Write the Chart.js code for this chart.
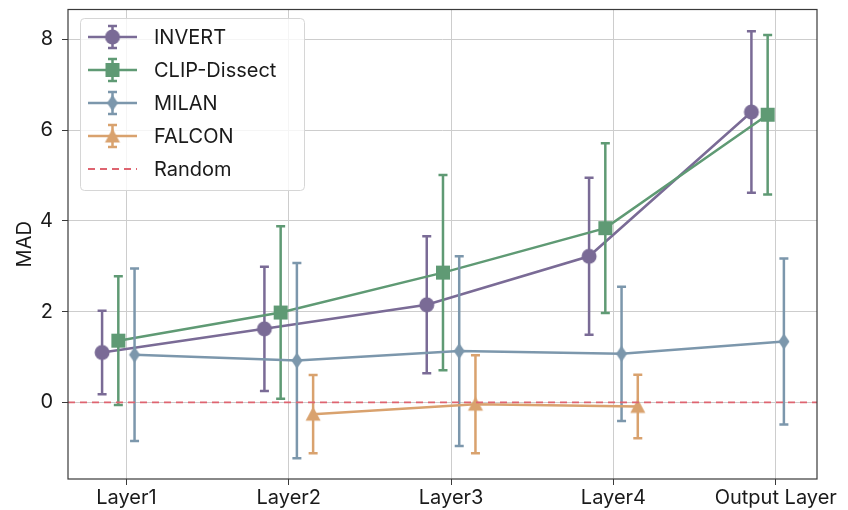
<!DOCTYPE html>
<html>
<head>
<meta charset="utf-8">
<script src="https://cdn.jsdelivr.net/npm/chart.js@4.4.1/dist/chart.umd.min.js"></script>
<style>
  html, body { margin: 0; padding: 0; background: #fff; }
  #wrap { width: 848px; height: 510px; }
</style>
</head>
<body>
<div id="wrap"><canvas id="madChart" width="848" height="510"></canvas></div>
<script>
// Categories and tick labels
const layers = ['Layer1', 'Layer2', 'Layer3', 'Layer4', 'Output Layer'];
const yTicks = [0, 2, 4, 6, 8];

// Series values (mean MAD and symmetric error)
const invertMean = [1.10, 1.62, 2.15, 3.22, 6.40];
const invertErr  = [0.92, 1.37, 1.51, 1.73, 1.78];
const clipMean   = [1.36, 1.98, 2.86, 3.84, 6.34];
const clipErr    = [1.42, 1.90, 2.15, 1.87, 1.76];
const milanMean  = [1.05, 0.92, 1.13, 1.07, 1.34];
const milanErr   = [1.90, 2.15, 2.09, 1.48, 1.83];
const falconMean = [null, -0.26, -0.04, -0.09, null];
const falconErr  = [null, 0.86, 1.08, 0.70, null];
const randomLevel = 0;

// Axis limits
const xMin = -0.36, xMax = 4.254;
const yMin = -1.69, yMax = 8.66;

const FONT = "Inter, 'DejaVu Sans', sans-serif";

// Build a marker image for pointStyle
function makeMarker(shape, color) {
    const c = document.createElement('canvas');
    c.width = 20;
    c.height = 20;
    const g = c.getContext('2d');
    g.fillStyle = color;
    g.beginPath();
    if (shape === 'circle') {
        g.arc(10, 10, 7.5, 0, Math.PI * 2);
    } else if (shape === 'square') {
        g.rect(3, 3, 14, 14);
    } else if (shape === 'thin_diamond') {
        g.moveTo(10, 2);
        g.lineTo(15.5, 10);
        g.lineTo(10, 18);
        g.lineTo(4.5, 10);
        g.closePath();
    } else if (shape === 'triangle') {
        g.moveTo(10, 2.5);
        g.lineTo(17.5, 16.5);
        g.lineTo(2.5, 16.5);
        g.closePath();
    }
    g.fill();
    return c;
}

// Turn category arrays into {x, y} points with a dodge offset
function toPoints(means, offset) {
    const pts = [];
    means.forEach((v, i) => {
        if (v !== null) pts.push({ x: i + offset, y: v });
    });
    return pts;
}

function makeSeries(label, means, errs, offset, color, shape, order) {
    const marker = makeMarker(shape, color);
    return {
        label: label,
        data: toPoints(means, offset),
        errors: errs.filter(e => e !== null),
        borderColor: color,
        backgroundColor: color,
        borderWidth: 2.5,
        pointStyle: marker,
        pointRadius: 7,
        pointHoverRadius: 7,
        tension: 0,
        order: order
    };
}

const series = [
    makeSeries('INVERT', invertMean, invertErr, -0.15, '#7a6b96', 'circle', 5),
    makeSeries('CLIP-Dissect', clipMean, clipErr, -0.05, '#5f9a74', 'square', 4),
    makeSeries('MILAN', milanMean, milanErr, 0.05, '#7c97ac', 'thin_diamond', 3),
    makeSeries('FALCON', falconMean, falconErr, 0.15, '#d9a26e', 'triangle', 2)
];

const randomSeries = {
    label: 'Random',
    data: [{ x: xMin, y: randomLevel }, { x: xMax, y: randomLevel }],
    borderColor: '#de6470',
    borderWidth: 1.8,
    borderDash: [7, 5],
    pointRadius: 0,
    order: 1,
    isRandom: true
};

// Draw error bars under each series
const errorBarPlugin = {
    id: 'errorBars',
    beforeDatasetDraw(chart, args) {
        const ds = chart.data.datasets[args.index];
        if (!ds.errors) return;
        const ctx = chart.ctx;
        const xs = chart.scales.x;
        const ys = chart.scales.y;
        ctx.save();
        ctx.strokeStyle = ds.borderColor;
        ctx.lineWidth = 2.5;
        ds.data.forEach((p, i) => {
            const e = ds.errors[i];
            const px = xs.getPixelForValue(p.x);
            const top = ys.getPixelForValue(p.y + e);
            const bot = ys.getPixelForValue(p.y - e);
            ctx.beginPath();
            ctx.moveTo(px, top);
            ctx.lineTo(px, bot);
            ctx.moveTo(px - 4.5, top);
            ctx.lineTo(px + 4.5, top);
            ctx.moveTo(px - 4.5, bot);
            ctx.lineTo(px + 4.5, bot);
            ctx.stroke();
        });
        ctx.restore();
    }
};

// Frame around the plot and an in-plot legend
const frameLegendPlugin = {
    id: 'frameLegend',
    afterDraw(chart) {
        const ctx = chart.ctx;
        const a = chart.chartArea;
        ctx.save();
        ctx.strokeStyle = '#3a3a3a';
        ctx.lineWidth = 1.2;
        ctx.strokeRect(a.left, a.top, a.right - a.left, a.bottom - a.top);

        // legend box
        const bx = 80.5, by = 18.5, bw = 224, bh = 172;
        ctx.fillStyle = 'rgba(255,255,255,0.8)';
        ctx.strokeStyle = '#d6d6d6';
        ctx.lineWidth = 1;
        ctx.beginPath();
        ctx.roundRect(bx, by, bw, bh, 4);
        ctx.fill();
        ctx.stroke();

        const entries = chart.data.datasets;
        entries.forEach((ds, i) => {
            const cy = 37 + i * 33;
            const x0 = 88, x1 = 137, xm = 112.5;
            ctx.strokeStyle = ds.borderColor;
            if (ds.isRandom) {
                ctx.lineWidth = ds.borderWidth;
                ctx.setLineDash(ds.borderDash);
                ctx.beginPath();
                ctx.moveTo(x0, cy);
                ctx.lineTo(x1, cy);
                ctx.stroke();
                ctx.setLineDash([]);
            } else {
                ctx.lineWidth = 2.5;
                ctx.beginPath();
                ctx.moveTo(x0, cy);
                ctx.lineTo(x1, cy);
                ctx.moveTo(xm, cy - 11);
                ctx.lineTo(xm, cy + 11);
                ctx.moveTo(xm - 4.5, cy - 11);
                ctx.lineTo(xm + 4.5, cy - 11);
                ctx.moveTo(xm - 4.5, cy + 11);
                ctx.lineTo(xm + 4.5, cy + 11);
                ctx.stroke();
                ctx.drawImage(ds.pointStyle, xm - 10, cy - 10);
            }
            ctx.fillStyle = '#1a1a1a';
            ctx.font = '20px ' + FONT;
            ctx.textBaseline = 'middle';
            ctx.textAlign = 'left';
            ctx.fillText(ds.label, 154, cy + 1);
        });
        ctx.restore();
    }
};

function createChart() {
    const ctx = document.getElementById('madChart');
    if (!ctx) return null;

    return new Chart(ctx, {
        type: 'line',
        data: { datasets: [...series, randomSeries] },
        options: {
            responsive: false,
            animation: false,
            devicePixelRatio: 1,
            layout: { padding: { top: 7, right: 31, left: 0, bottom: 0 } },
            plugins: {
                legend: { display: false },
                tooltip: { enabled: false }
            },
            scales: {
                x: {
                    type: 'linear',
                    min: xMin,
                    max: xMax,
                    afterBuildTicks: (scale) => {
                        scale.ticks = layers.map((_, i) => ({ value: i }));
                    },
                    afterFit: (scale) => {
                        scale.height = 31;
                        scale.paddingLeft = 0;
                        scale.paddingRight = 0;
                    },
                    ticks: {
                        callback: (v) => layers[v],
                        color: '#1a1a1a',
                        font: { family: FONT, size: 20 },
                        padding: 1,
                        maxRotation: 0,
                        autoSkip: false
                    },
                    grid: { color: '#cdcdcd', lineWidth: 1, tickLength: 6, tickColor: '#3a3a3a' },
                    border: { display: false }
                },
                y: {
                    min: yMin,
                    max: yMax,
                    afterBuildTicks: (scale) => {
                        scale.ticks = yTicks.map(v => ({ value: v }));
                    },
                    afterFit: (scale) => {
                        scale.width = 68;
                        scale.paddingTop = 0;
                        scale.paddingBottom = 0;
                    },
                    title: {
                        display: true,
                        text: 'MAD',
                        color: '#1a1a1a',
                        font: { family: FONT, size: 20 },
                        padding: { top: 13, bottom: 0 }
                    },
                    ticks: {
                        color: '#1a1a1a',
                        font: { family: FONT, size: 20 },
                        padding: 9
                    },
                    grid: { color: '#cdcdcd', lineWidth: 1, tickLength: 6, tickColor: '#3a3a3a' },
                    border: { display: false }
                }
            }
        },
        plugins: [errorBarPlugin, frameLegendPlugin]
    });
}

createChart();
</script>
</body>
</html>
